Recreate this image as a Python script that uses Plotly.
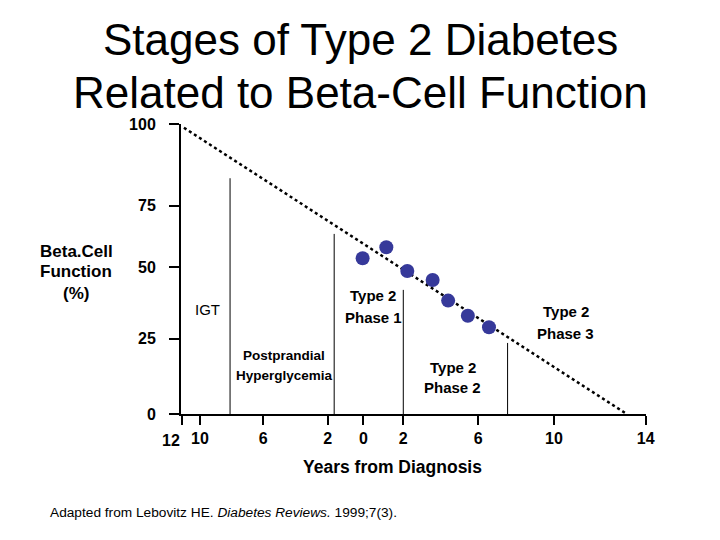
import plotly.graph_objects as go

# ---- data (axis units: x = position along the drawn time axis, y = % beta-cell function) ----
x_tick_pos = [-9.93, -8.96, -5.49, -1.96, 0.0, 2.19, 6.30, 10.45, 15.48]
x_tick_labels = ["12", "10", "6", "2", "0", "2", "6", "10", "14"]
y_tick_pos = [0, 25.97, 50.6, 71.8, 100]
y_tick_labels = ["0", "25", "50", "75", "100"]

trend_x = [-9.84, 14.44]
trend_y = [98.7, 0.0]

patient_x = [-0.04, 1.26, 2.41, 3.80, 4.65, 5.73, 6.89]
patient_y = [53.7, 57.5, 49.3, 46.2, 39.1, 33.9, 29.9]

stage_x = [-7.31, -1.60, 2.19, 7.91]
stage_top = [81.3, 62.1, 42.8, 24.5]

FONT = "Arial, Liberation Sans, sans-serif"

fig = go.Figure()

# stage divider lines
for sx, st in zip(stage_x, stage_top):
    fig.add_trace(go.Scatter(x=[sx, sx], y=[0, st], mode="lines",
                             line=dict(color="black", width=1),
                             showlegend=False, hoverinfo="skip"))

# declining trend line
fig.add_trace(go.Scatter(x=trend_x, y=trend_y, mode="lines",
                         line=dict(color="black", width=2.5, dash="dot"),
                         showlegend=False))

# patient data points
fig.add_trace(go.Scatter(x=patient_x, y=patient_y, mode="markers",
                         marker=dict(color="#36399a", size=14),
                         showlegend=False))

tickfont = dict(family=FONT, size=16, color="black", weight="bold")
bold = dict(family=FONT, size=15, color="black", weight="bold")

annotations = [
    dict(x=-8.55, y=36.2, text="IGT", font=dict(family=FONT, size=15, color="black")),
    dict(x=-4.35, y=20.3, text="Postprandial", font=dict(family=FONT, size=13.5, color="black", weight="bold")),
    dict(x=-4.35, y=13.4, text="Hyperglycemia", font=dict(family=FONT, size=13.5, color="black", weight="bold")),
    dict(x=0.53, y=40.7, text="Type 2", font=bold),
    dict(x=0.53, y=33.4, text="Phase 1", font=bold),
    dict(x=4.91, y=16.2, text="Type 2", font=bold),
    dict(x=4.91, y=9.3, text="Phase 2", font=bold),
    dict(x=11.11, y=35.2, text="Type 2", font=bold),
    dict(x=11.11, y=27.9, text="Phase 3", font=bold),
]
for a in annotations:
    a.update(xref="x", yref="y", showarrow=False, xanchor="center", yanchor="middle")

# first x tick label sits left of its tick in the reference
first_lbl = dict(x=-0.0215, y=-0.0897, xref="paper", yref="paper", showarrow=False,
                 xanchor="center", yanchor="middle", text=x_tick_labels[0], font=tickfont)

paper_ann = [
    dict(x=0.385, y=1.293, text="Stages of Type 2 Diabetes",
         font=dict(family=FONT, size=44, color="black")),
    dict(x=0.385, y=1.107, text="Related to Beta-Cell Function",
         font=dict(family=FONT, size=44, color="black")),
    dict(x=-0.2258, y=0.5597, text="Beta.Cell", font=dict(family=FONT, size=17, color="black", weight="bold")),
    dict(x=-0.2258, y=0.4907, text="Function", font=dict(family=FONT, size=17, color="black", weight="bold")),
    dict(x=-0.2258, y=0.4172, text="(%)", font=dict(family=FONT, size=17, color="black", weight="bold")),
    dict(x=0.4559, y=-0.1817, text="Years from Diagnosis",
         font=dict(family=FONT, size=17.5, color="black", weight="bold")),
]
for a in paper_ann:
    a.update(xref="paper", yref="paper", showarrow=False, xanchor="center", yanchor="middle")

foot = dict(x=-0.286, y=-0.338, xref="paper", yref="paper", showarrow=False,
            xanchor="left", yanchor="middle",
            text="Adapted from Lebovitz HE. <i>Diabetes Reviews.</i> 1999;7(3).",
            font=dict(family=FONT, size=13.7, color="black"))

fig.update_layout(
    width=704, height=524,
    margin=dict(l=173, r=66, t=116, b=118),
    paper_bgcolor="white", plot_bgcolor="white",
    annotations=annotations + [first_lbl] + paper_ann + [foot],
    xaxis=dict(range=[-10, 15.5], showgrid=False, zeroline=False,
               showline=True, linecolor="black", linewidth=2,
               ticks="outside", ticklen=9, tickwidth=2, tickcolor="black",
               tickvals=x_tick_pos, ticktext=[""] + x_tick_labels[1:],
               tickangle=0, automargin=False, tickfont=tickfont),
    yaxis=dict(range=[0, 100], showgrid=False, zeroline=False,
               showline=True, linecolor="black", linewidth=2,
               ticks="outside", ticklen=10, tickwidth=2, tickcolor="black",
               tickvals=y_tick_pos, ticktext=y_tick_labels,
               ticklabelstandoff=10, automargin=False, tickfont=tickfont),
)

fig.write_html("out.html")
